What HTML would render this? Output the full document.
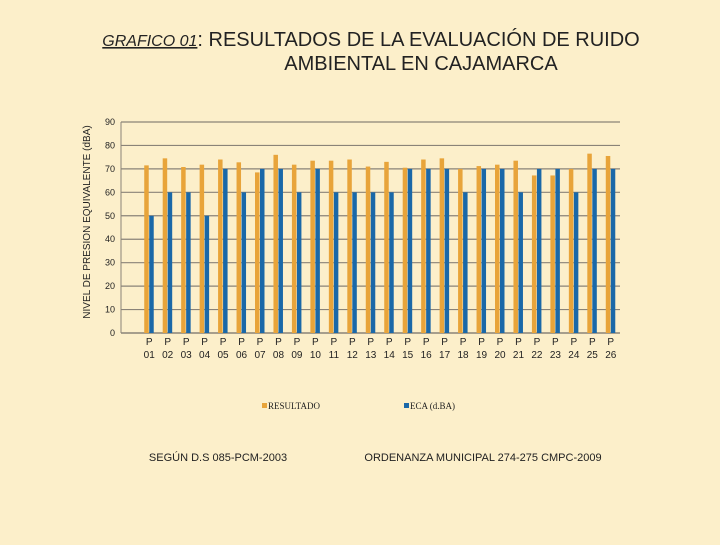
<!DOCTYPE html>
<html><head><meta charset="utf-8"><style>
body{margin:0;width:720px;height:540px;background:#fcefca;overflow:hidden;font-family:"Liberation Sans",sans-serif}
</style></head><body>
<svg width="720" height="540" xmlns="http://www.w3.org/2000/svg">
<rect width="720" height="540" fill="#fcefca"/>
<text x="371" y="46" text-anchor="middle" font-size="20" fill="#222"><tspan font-style="italic" font-size="16" text-decoration="underline">GRAFICO 01</tspan>: RESULTADOS DE LA EVALUACIÓN DE RUIDO</text>
<text x="421" y="70" text-anchor="middle" font-size="20" fill="#222">AMBIENTAL EN CAJAMARCA</text>
<text transform="translate(90,222) rotate(-90)" text-anchor="middle" font-size="10" fill="#222">NIVEL  DE PRESION  EQUIVALENTE (dBA)</text>
<g id="grid"></g><g id="bars"></g><g id="labels"></g>
<rect x="262" y="403" width="5" height="5" fill="#e8a43a"/>
<text x="268" y="409" font-size="9" font-family="Liberation Serif,serif" fill="#222">RESULTADO</text>
<rect x="404" y="403" width="5" height="5" fill="#1a68a8"/>
<text x="410" y="409" font-size="9" font-family="Liberation Serif,serif" fill="#222">ECA (d.BA)</text>
<text x="218" y="461" text-anchor="middle" font-size="11" fill="#222">SEGÚN D.S 085-PCM-2003</text>
<text x="483" y="461" text-anchor="middle" font-size="11" fill="#222">ORDENANZA MUNICIPAL 274-275 CMPC-2009</text>
</svg>
<script>
const categories=["01","02","03","04","05","06","07","08","09","10","11","12","13","14","15","16","17","18","19","20","21","22","23","24","25","26"];
const resultado=[71.5,74.5,70.8,71.8,74,72.8,68.5,76,71.8,73.5,73.5,74,71,73,70.5,74,74.5,70,71.2,71.8,73.5,67.2,67.2,70,76.5,75.5];
const eca=[50,60,60,50,70,60,70,70,60,70,60,60,60,60,70,70,70,60,70,70,60,70,70,60,70,70];
const yTicks=[0,10,20,30,40,50,60,70,80,90];
const NS="http://www.w3.org/2000/svg";
const y0=333,y90=122,xL=140,xR=620;
const yS=v=>y0-(v/90)*(y0-y90);
const step=(xR-xL)/categories.length;
const xS=i=>xL+step*(i+0.5);
function mk(t,a,p){const e=document.createElementNS(NS,t);for(const k in a)e.setAttribute(k,a[k]);p.appendChild(e);return e;}
const g=document.getElementById('grid'),b=document.getElementById('bars'),l=document.getElementById('labels');
yTicks.forEach(v=>{
 const ln=mk('line',{x1:121,x2:xR,y1:yS(v),y2:yS(v),stroke:'#8a8378','stroke-width':v===0?1.5:1.2},g);
 
 
 const t=mk('text',{x:115,y:yS(v)+3,'text-anchor':'end','font-size':9,fill:'#222'},l);
 t.textContent=v;
 
 
});
mk('line',{x1:121,x2:121,y1:y90,y2:y0,stroke:'#8a8378','stroke-width':1},g);
categories.forEach((c,i)=>{
 const cx=xS(i);
 const r=mk('rect',{x:cx-5,y:yS(resultado[i]),width:4.5,height:y0-yS(resultado[i]),fill:'#e8a43a'},b);
 
 
 const e=mk('rect',{x:cx,y:yS(eca[i]),width:4.5,height:y0-yS(eca[i]),fill:'#1a68a8'},b);
 
 
 const t1=mk('text',{x:cx,y:345,'text-anchor':'middle','font-size':10,fill:'#222'},l);
 t1.textContent='P';
 
 
 const t2=mk('text',{x:cx,y:358,'text-anchor':'middle','font-size':10,fill:'#222'},l);
 t2.textContent=c;
 
 
});
</script>
</body></html>
